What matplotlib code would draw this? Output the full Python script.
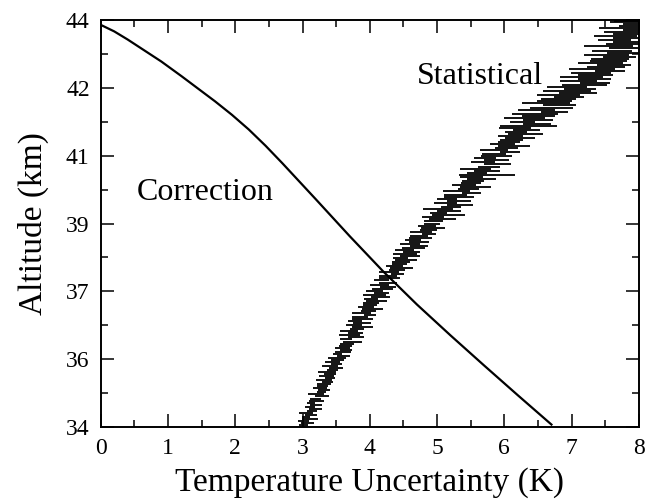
import numpy as np
import matplotlib.pyplot as plt
from matplotlib.ticker import FixedLocator, FixedFormatter, MultipleLocator

# Correction curve (K vs km)
corr_temp = [0.00, 0.20, 0.40, 0.65, 0.90, 1.20, 1.45, 1.70, 1.95, 2.20, 2.45, 2.70, 3.20, 3.70,
             4.20, 4.70, 5.20, 5.70, 6.20, 6.70]
corr_alt = [43.88, 43.72, 43.52, 43.25, 42.98, 42.62, 42.31, 42.00, 41.67, 41.31, 40.91, 40.48,
            39.59, 38.69, 37.82, 37.01, 36.25, 35.51, 34.78, 34.06]

# Statistical uncertainty: altitude (km), temperature (K), half width of bar (K)
stat_alt = [34.05, 34.10, 34.15, 34.20, 34.25, 34.30, 34.35, 34.40, 34.45, 34.50,
            34.55, 34.60, 34.65, 34.70, 34.75, 34.80, 34.85, 34.90, 34.95, 35.00,
            35.05, 35.10, 35.15, 35.20, 35.25, 35.30, 35.35, 35.40, 35.45, 35.50,
            35.55, 35.60, 35.65, 35.70, 35.75, 35.80, 35.85, 35.90, 35.95, 36.00,
            36.05, 36.10, 36.15, 36.20, 36.25, 36.30, 36.35, 36.40, 36.45, 36.50,
            36.55, 36.60, 36.65, 36.70, 36.75, 36.80, 36.85, 36.90, 36.95, 37.00,
            37.05, 37.10, 37.15, 37.20, 37.25, 37.30, 37.35, 37.40, 37.45, 37.50,
            37.55, 37.60, 37.65, 37.70, 37.75, 37.80, 37.85, 37.90, 37.95, 38.00,
            38.05, 38.10, 38.15, 38.20, 38.25, 38.30, 38.35, 38.40, 38.45, 38.50,
            38.55, 38.60, 38.65, 38.70, 38.75, 38.80, 38.85, 38.90, 38.95, 39.00,
            39.05, 39.10, 39.15, 39.20, 39.25, 39.30, 39.35, 39.40, 39.45, 39.50,
            39.55, 39.60, 39.65, 39.70, 39.75, 39.80, 39.85, 39.90, 39.95, 40.00,
            40.05, 40.10, 40.15, 40.20, 40.25, 40.30, 40.35, 40.40, 40.45, 40.50,
            40.55, 40.60, 40.65, 40.70, 40.75, 40.80, 40.85, 40.90, 40.95, 41.00,
            41.05, 41.10, 41.15, 41.20, 41.25, 41.30, 41.35, 41.40, 41.45, 41.50,
            41.55, 41.60, 41.65, 41.70, 41.75, 41.80, 41.85, 41.90, 41.95, 42.00,
            42.05, 42.10, 42.15, 42.20, 42.25, 42.30, 42.35, 42.40, 42.45, 42.50,
            42.55, 42.60, 42.65, 42.70, 42.75, 42.80, 42.85, 42.90, 42.95, 43.00,
            43.05, 43.10, 43.15, 43.20, 43.25, 43.30, 43.35, 43.40, 43.45, 43.50,
            43.55, 43.60, 43.65, 43.70, 43.75, 43.80, 43.85, 43.90, 43.94, 43.97]
stat_temp = [3.01, 3.07, 3.01, 3.11, 3.05, 3.12, 3.05, 3.14, 3.19, 3.11,
             3.20, 3.13, 3.21, 3.19, 3.29, 3.20, 3.28, 3.32, 3.26, 3.30,
             3.32, 3.37, 3.32, 3.41, 3.36, 3.41, 3.36, 3.44, 3.50, 3.41,
             3.50, 3.44, 3.52, 3.51, 3.61, 3.52, 3.60, 3.65, 3.59, 3.64,
             3.66, 3.74, 3.65, 3.79, 3.70, 3.79, 3.69, 3.81, 3.89, 3.76,
             3.88, 3.78, 3.89, 3.86, 4.00, 3.87, 3.98, 4.04, 3.94, 4.00,
             4.02, 4.10, 4.02, 4.16, 4.07, 4.17, 4.07, 4.19, 4.27, 4.14,
             4.27, 4.17, 4.29, 4.27, 4.41, 4.28, 4.40, 4.47, 4.37, 4.44,
             4.46, 4.54, 4.46, 4.60, 4.52, 4.62, 4.52, 4.65, 4.73, 4.60,
             4.73, 4.64, 4.75, 4.73, 4.88, 4.76, 4.87, 4.94, 4.85, 4.92,
             4.95, 5.08, 4.94, 5.17, 5.02, 5.18, 5.01, 5.21, 5.34, 5.12,
             5.32, 5.15, 5.33, 5.28, 5.51, 5.29, 5.47, 5.57, 5.40, 5.50,
             5.53, 5.66, 5.51, 5.74, 5.59, 5.74, 5.57, 5.77, 5.90, 5.68,
             5.88, 5.71, 5.89, 5.85, 6.08, 5.85, 6.03, 6.14, 5.97, 6.07,
             6.10, 6.23, 6.09, 6.32, 6.17, 6.33, 6.16, 6.36, 6.49, 6.27,
             6.50, 6.30, 6.51, 6.46, 6.74, 6.48, 6.70, 6.82, 6.62, 6.75,
             6.80, 6.96, 6.80, 7.09, 6.93, 7.12, 6.93, 7.19, 7.35, 7.10,
             7.34, 7.14, 7.35, 7.29, 7.57, 7.30, 7.51, 7.63, 7.43, 7.55,
             7.57, 7.71, 7.52, 7.78, 7.60, 7.77, 7.55, 7.78, 7.92, 7.64,
             7.87, 7.65, 7.85, 7.78, 8.04, 7.75, 7.95, 8.06, 7.84, 7.95]
stat_err = [0.07, 0.10, 0.08, 0.12, 0.06, 0.09, 0.11, 0.07, 0.10, 0.08,
            0.09, 0.06, 0.11, 0.08, 0.10, 0.12, 0.07, 0.09, 0.11, 0.08,
            0.10, 0.08, 0.12, 0.07, 0.11, 0.09, 0.13, 0.08, 0.10, 0.12,
            0.08, 0.11, 0.09, 0.13, 0.10, 0.07, 0.12, 0.09, 0.11, 0.10,
            0.10, 0.14, 0.09, 0.12, 0.16, 0.11, 0.13, 0.10, 0.15, 0.12,
            0.13, 0.10, 0.15, 0.12, 0.09, 0.14, 0.11, 0.16, 0.12, 0.10,
            0.12, 0.15, 0.10, 0.14, 0.17, 0.11, 0.13, 0.16, 0.12, 0.14,
            0.14, 0.11, 0.16, 0.13, 0.10, 0.15, 0.12, 0.17, 0.13, 0.11,
            0.13, 0.16, 0.11, 0.15, 0.18, 0.12, 0.14, 0.17, 0.13, 0.15,
            0.15, 0.12, 0.17, 0.14, 0.11, 0.16, 0.13, 0.18, 0.14, 0.12,
            0.14, 0.20, 0.16, 0.24, 0.13, 0.18, 0.22, 0.15, 0.19, 0.17,
            0.18, 0.15, 0.22, 0.17, 0.14, 0.20, 0.16, 0.23, 0.18, 0.15,
            0.16, 0.21, 0.17, 0.42, 0.15, 0.19, 0.23, 0.16, 0.20, 0.18,
            0.19, 0.16, 0.23, 0.18, 0.15, 0.21, 0.17, 0.24, 0.19, 0.16,
            0.17, 0.22, 0.18, 0.26, 0.16, 0.20, 0.24, 0.42, 0.21, 0.19,
            0.22, 0.30, 0.25, 0.34, 0.20, 0.28, 0.32, 0.24, 0.36, 0.26,
            0.26, 0.22, 0.32, 0.28, 0.36, 0.24, 0.30, 0.34, 0.22, 0.28,
            0.24, 0.32, 0.26, 0.30, 0.22, 0.34, 0.28, 0.25, 0.33, 0.27,
            0.28, 0.24, 0.34, 0.26, 0.30, 0.22, 0.36, 0.27, 0.31, 0.25,
            0.26, 0.32, 0.24, 0.30, 0.28, 0.34, 0.25, 0.30, 0.27, 0.32]

y_ticks = [34, 35.667, 37.333, 39, 40.667, 42.333, 44]
y_tick_labels = ['34', '36', '37', '39', '41', '42', '44']

plt.rcParams['font.family'] = 'Liberation Serif'

fig = plt.figure(figsize=(6.46, 5.0), dpi=100)
ax = fig.add_axes([0.156, 0.146, 0.833, 0.814])

ax.plot(corr_temp, corr_alt, color='black', lw=1.6)
ax.errorbar(stat_temp, stat_alt, xerr=stat_err, fmt='none', ecolor='black',
            elinewidth=1.3, capsize=0)

ax.text(0.53, 39.77, 'Correction', fontsize=23, va='center', ha='left')
ax.text(4.70, 42.60, 'Statistical', fontsize=23, va='center', ha='left')

ax.set_xlim(0, 8)
ax.set_ylim(34, 44)
ax.xaxis.set_major_locator(MultipleLocator(1))
ax.xaxis.set_minor_locator(MultipleLocator(0.5))
ax.yaxis.set_major_locator(FixedLocator(y_ticks))
ax.yaxis.set_major_formatter(FixedFormatter(y_tick_labels))
ax.yaxis.set_minor_locator(FixedLocator([(a + b) / 2 for a, b in zip(y_ticks[:-1], y_ticks[1:])]))

ax.tick_params(which='both', direction='in', top=True, right=True, width=1.1, labelsize=17)
ax.tick_params(which='major', length=9.5, pad=8)
ax.tick_params(which='minor', length=5)
for s in ax.spines.values():
    s.set_linewidth(1.4)

ax.set_xlabel('Temperature Uncertainty (K)', fontsize=24, labelpad=6)
ax.set_ylabel('Altitude (km)', fontsize=24, labelpad=12)

plt.savefig('out.png', dpi=100)
